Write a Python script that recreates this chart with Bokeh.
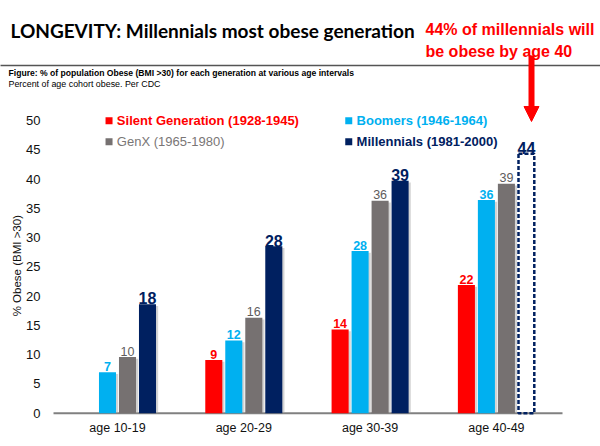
import math
from bokeh.plotting import figure
from bokeh.models import (ColumnDataSource, FixedTicker, Label, Arrow, NormalHead, Range1d)
from bokeh.core.properties import value
from bokeh.embed import file_html
from bokeh.resources import INLINE

# ---------------- data ----------------
categories = ["age 10-19", "age 20-29", "age 30-39", "age 40-49"]
series_names = ["Silent Generation (1928-1945)", "Boomers (1946-1964)",
                "GenX (1965-1980)", "Millennials (1981-2000)"]
silent = [None, 9.1, 14.3, 21.9]
silent_labels = ["", "9", "14", "22"]
boomers = [7.0, 12.4, 27.7, 36.4]
boomers_labels = ["7", "12", "28", "36"]
genx = [9.6, 16.3, 36.3, 39.2]
genx_labels = ["10", "16", "36", "39"]
millennials = [18.6, 28.5, 39.7, None]
millennials_labels = ["18", "28", "39", ""]
millennials_projected = [None, None, None, 44.3]
millennials_projected_labels = ["", "", "", "44"]
y_ticks = [0, 5, 10, 15, 20, 25, 30, 35, 40, 45, 50]

# ---------------- style ----------------
RED = "#FF0000"
BLUE = "#00B0F0"
GRAY = "#767171"
NAVY = "#002060"
SANS = "Liberation Sans"
offsets = [-0.2375, -0.0792, 0.0792, 0.2375]
bar_w = 0.135
X_LEFT, X_RIGHT = -0.5067, 3.5234   # extent of the plotting area (baseline)

# the frame covers the whole canvas so that header texts are not clipped
p = figure(width=600, height=446, output_backend="svg", toolbar_location=None,
           x_range=Range1d(-0.92637, 3.82423), y_range=Range1d(-5.688, 70.499),
           min_border=0, min_border_left=0, min_border_right=0,
           min_border_top=0, min_border_bottom=0)
p.outline_line_color = None
p.xgrid.grid_line_color = None
p.ygrid.grid_line_color = None
p.background_fill_color = "white"
p.border_fill_color = "white"

# axes placed inside the frame
for ax in (p.xaxis, p.yaxis):
    ax.axis_line_color = None
    ax.major_tick_line_color = None
    ax.minor_tick_line_color = None
    ax.major_tick_out = 0
    ax.major_tick_in = 0
    ax.minor_tick_out = 0
    ax.minor_tick_in = 0
    ax.major_label_text_font = SANS
    ax.major_label_text_color = "#111111"

p.xaxis.fixed_location = 0
p.xaxis.ticker = FixedTicker(ticks=list(range(len(categories))))
p.xaxis.major_label_overrides = {i: c for i, c in enumerate(categories)}
p.xaxis.major_label_text_font_size = "12.5px"
p.xaxis.major_label_standoff = 8

p.yaxis.fixed_location = X_LEFT
p.yaxis.ticker = FixedTicker(ticks=y_ticks)
p.yaxis.major_label_text_font_size = "13px"
p.yaxis.major_label_standoff = 13

# baseline
p.segment(x0=[X_LEFT], y0=[0], x1=[X_RIGHT], y1=[0], line_color="#808080", line_width=2)

# bars
series = [(silent, silent_labels, RED, "bold", "12.5px"),
          (boomers, boomers_labels, BLUE, "bold", "12.5px"),
          (genx, genx_labels, GRAY, "normal", "12.5px"),
          (millennials, millennials_labels, NAVY, "bold", "16px")]

for k, (vals, labs, col, weight, fsize) in enumerate(series):
    xs, tops, texts, ly = [], [], [], []
    for i, v in enumerate(vals):
        if v is None:
            continue
        xs.append(i + offsets[k])
        tops.append(v)
        texts.append(labs[i])
        ly.append(v + 1.0)
    src = ColumnDataSource(dict(x=xs, top=tops, text=texts, ly=ly,
                                sx=[x + 0.017 for x in xs], stop=[t - 0.3 for t in tops]))
    p.vbar(x="sx", top="stop", bottom=0, width=bar_w, source=src,
           fill_color="#a0a0a0", fill_alpha=0.45, line_color=None)
    p.vbar(x="x", top="top", bottom=0, width=bar_w, source=src,
           fill_color=col, line_color=None)
    p.text(x="x", y="ly", text="text", source=src, text_align="center",
           text_baseline="alphabetic", text_color=col if col != GRAY else "#605c5c",
           text_font=value(SANS), text_font_style=weight, text_font_size=fsize)

# projected millennials (dashed outline)
pxs, ptops, ptexts, ply = [], [], [], []
for i, v in enumerate(millennials_projected):
    if v is None:
        continue
    pxs.append(i + offsets[3])
    ptops.append(v)
    ptexts.append(millennials_projected_labels[i])
    ply.append(v + 1.0)
psrc = ColumnDataSource(dict(x=pxs, top=ptops, text=ptexts, ly=ply))
p.vbar(x="x", top="top", bottom=0, width=bar_w - 0.01, source=psrc,
       fill_color=None, line_color=NAVY, line_width=2.5, line_dash="4 2")
p.text(x="x", y="ly", text="text", source=psrc, text_align="center",
       text_baseline="alphabetic", text_color=NAVY, text_font=value(SANS),
       text_font_style="bold", text_font_size="16px")

# legend (custom)
leg_colors = [RED, BLUE, GRAY, NAVY]
leg_text_colors = [RED, BLUE, "#7a7676", NAVY]
leg_weights = ["bold", "bold", "normal", "bold"]
leg_sq_x = [-0.067, 1.831, -0.067, 1.831]
leg_y = [49.96, 49.96, 46.37, 46.37]
p.scatter(x=leg_sq_x, y=leg_y, marker="square", size=7, fill_color=leg_colors,
          line_color=None)
for k in range(4):
    p.add_layout(Label(x=leg_sq_x[k] + 0.062, y=leg_y[k], text=series_names[k],
                       text_color=leg_text_colors[k], text_font=SANS,
                       text_font_style=leg_weights[k], text_font_size="13px",
                       text_baseline="middle", text_align="left"))

# y-axis title
p.add_layout(Label(x=-0.796, y=25.2, text="% Obese (BMI >30)", angle=math.pi / 2,
                   text_align="center", text_baseline="middle", text_font=SANS,
                   text_font_size="11.5px", text_color="#111111"))

# header
p.add_layout(Label(x=-0.8472, y=65.37, text="LONGEVITY: Millennials most obese generation",
                   text_font="Lato", text_font_style="bold", text_font_size="19px",
                   text_color="black", text_baseline="alphabetic"))
p.add_layout(Label(x=2.4386, y=65.55, text="44% of millennials will",
                   text_font=SANS, text_font_style="bold", text_font_size="16px",
                   text_color=RED, text_baseline="alphabetic"))
p.add_layout(Label(x=2.4386, y=61.87, text="be obese by age 40",
                   text_font=SANS, text_font_style="bold", text_font_size="16px",
                   text_color=RED, text_baseline="alphabetic"))
p.segment(x0=[-0.93], y0=[59.4], x1=[3.83], y1=[59.4], line_color="#555555", line_width=1.5)
p.add_layout(Label(x=-0.863, y=58.15,
                   text="Figure: % of population Obese (BMI >30) for each generation at various age intervals",
                   text_font=SANS, text_font_style="bold", text_font_size="8.6px",
                   text_color="black", text_baseline="alphabetic"))
p.add_layout(Label(x=-0.863, y=56.27, text="Percent of age cohort obese.  Per CDC",
                   text_font=SANS, text_font_size="8.9px",
                   text_color="black", text_baseline="alphabetic"))

# red arrow
p.add_layout(Arrow(end=None, x_start=3.278, y_start=61.1, x_end=3.278, y_end=52.0,
                   line_color=RED, line_width=6))
p.add_layout(Arrow(end=NormalHead(size=15, fill_color=RED, line_color=RED, line_width=1),
                   x_start=3.278, y_start=52.3, x_end=3.278, y_end=49.83,
                   line_color=RED, line_width=1))

open("out.html", "w").write(file_html(p, INLINE))
